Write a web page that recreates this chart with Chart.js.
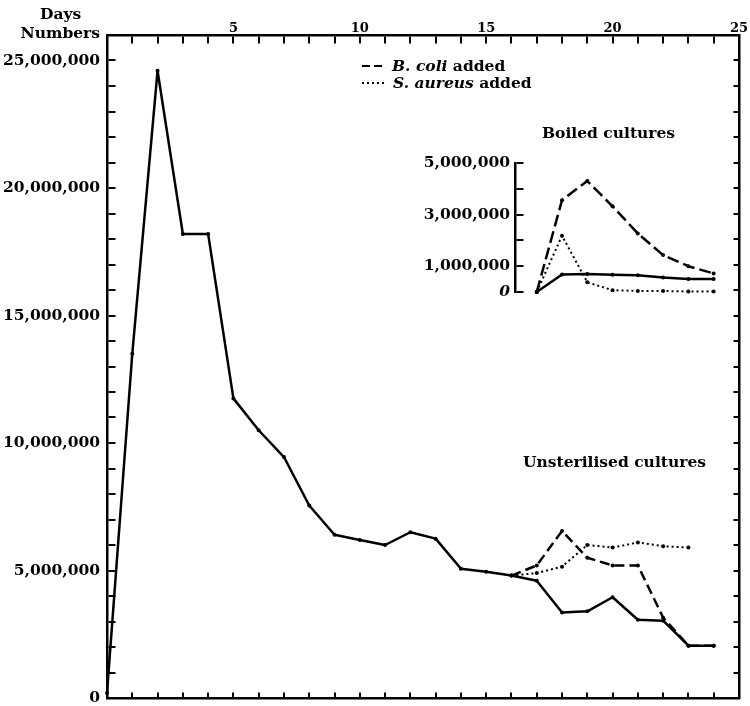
<!DOCTYPE html>
<html><head><meta charset="utf-8">
<script src="https://cdn.jsdelivr.net/npm/chart.js@4.4.1/dist/chart.umd.min.js"></script>
<style>
html,body{margin:0;padding:0;background:#fff;}
#wrap{position:relative;width:750px;height:706px;overflow:hidden;background:#fff;}
canvas{position:absolute;}
.t{position:absolute;font-family:'DejaVu Serif',serif;font-weight:bold;font-size:15.5px;color:#000;white-space:nowrap;line-height:18px;}
.t i{font-style:italic;}
.samp{display:inline-block;height:2.5px;vertical-align:middle;margin-right:8px;position:relative;top:-1px;}
</style></head><body>
<div id="wrap">
<canvas id="main" width="750" height="706" style="left:0;top:0"></canvas>
<canvas id="inset" width="310" height="150" style="left:420px;top:151px"></canvas>
<div class="t" style="left:40px;top:5px">Days</div>
<div class="t" style="right:650px;top:24px">Numbers</div>
<div class="t" style="left:362px;top:57px"><span class="samp" style="width:22px;background:repeating-linear-gradient(to right,#000 0 8px,transparent 8px 12px);"></span><i>B. coli</i> added</div>
<div class="t" style="left:362px;top:74px"><span class="samp" style="width:25px;margin-right:6px;background:repeating-linear-gradient(to right,#000 0 2.5px,transparent 2.5px 5px);"></span><i>S. aureus</i> added</div>
<div class="t" style="left:542px;top:124px">Boiled cultures</div>
<div class="t" style="left:523px;top:453px">Unsterilised cultures</div>
</div>
<script>
// ---- data ----
const days = [0,1,2,3,4,5,6,7,8,9,10,11,12,13,14,15,16,17,18,19,20,21,22,23,24];
const unsterilised = [200000,13500000,24600000,18200000,18200000,11750000,10500000,9450000,7550000,6400000,6200000,6000000,6500000,6250000,5070000,4950000,4800000,4600000,3350000,3400000,3950000,3070000,3030000,2050000,2050000];
const bColiDays = [16,17,18,19,20,21,22,23,24];
const bColiAdded = [4800000,5200000,6550000,5500000,5200000,5200000,3150000,2050000,2050000];
const sAureusDays = [16,17,18,19,20,21,22,23];
const sAureusAdded = [4800000,4900000,5150000,6000000,5900000,6100000,5950000,5900000];

const boiledDays = [17,18,19,20,21,22,23,24];
const boiledControl = [0,680000,700000,670000,650000,560000,500000,500000];
const boiledBColi = [0,3560000,4300000,3320000,2270000,1430000,1000000,720000];
const boiledSAureus = [0,2180000,380000,70000,40000,40000,20000,20000];

// ---- tick labels ----
const dayLabelValues = [5,10,15,20,25];
const dayLabelTexts = ['5','10','15','20','25'];
const mainYLabelValues = [0,5000000,10000000,15000000,20000000,25000000];
const mainYLabelTexts = ['0','5,000,000','10,000,000','15,000,000','20,000,000','25,000,000'];
const insetYLabelValues = [0,1000000,3000000,5000000];
const insetYLabelTexts = ['0','1,000,000','3,000,000','5,000,000'];

// ---- helpers ----
const FONT = {family:"'DejaVu Serif', serif", size:15.5, weight:'bold', lineHeight:1};
const DAYFONT = {family:"'DejaVu Serif', serif", size:13, weight:'bold', lineHeight:1};
function pts(xs, ys){ return xs.map((x,i)=>({x:x, y:ys[i]})); }
function lookup(vals, texts){ return (v)=>{ const i = vals.findIndex(a=>Math.abs(a-v)<1e-6*Math.max(1,Math.abs(a))); return i>=0 ? texts[i] : ''; }; }
function tickDash(len, horiz, both){
  return (ctx)=>{
    const a = ctx.chart.chartArea;
    if(!a) return [];
    const span = horiz ? (a.right-a.left) : (a.bottom-a.top);
    return both ? [len, Math.max(span-2*len,1), len, 5000] : [len, 5000];
  };
}
function zeroPad(s){ s.paddingTop=0; s.paddingBottom=0; s.paddingLeft=0; s.paddingRight=0; }
function ds(label, data, dash, width, yID, xID){
  return {label, data, borderColor:'#000', backgroundColor:'#000', borderWidth:width, borderDash:dash,
    borderJoinStyle:'round', borderCapStyle:'butt',
    pointRadius:2, pointHoverRadius:2, pointBackgroundColor:'#000', pointBorderWidth:0,
    tension:0, fill:false, clip:false, yAxisID:yID, xAxisID:xID};
}
Chart.defaults.font.family = "'DejaVu Serif', serif";
Chart.defaults.color = '#000';

new Chart(document.getElementById('main'), {
  type:'line',
  data:{datasets:[
    ds('S. aureus added', pts(sAureusDays, sAureusAdded), [2,3], 2, 'y', 'x'),
    ds('B. coli added', pts(bColiDays, bColiAdded), [10,5], 2.5, 'y', 'x'),
    ds('Unsterilised cultures', pts(days, unsterilised), [], 2.5, 'y', 'x')
  ]},
  options:{
    responsive:false, animation:false, devicePixelRatio:1,
    layout:{padding:{left:0,right:11,top:0,bottom:8}},
    plugins:{legend:{display:false}, tooltip:{enabled:false}, title:{display:false}},
    scales:{
      x:{type:'linear', position:'top', min:0, max:25,
        ticks:{stepSize:1, autoSkip:false, maxRotation:0, minRotation:0, padding:0, font:DAYFONT, color:'#000', includeBounds:false,
          callback: lookup(dayLabelValues, dayLabelTexts)},
        grid:{drawTicks:false, color:'#000', lineWidth:2},
        border:{display:true, color:'#000', width:2.5, dash: tickDash(7,false,true)},
        afterFit:(s)=>{ s.height = 35; zeroPad(s); }
      },
      xb:{type:'linear', position:'bottom', min:0, max:25,
        ticks:{display:false}, grid:{display:false, drawTicks:false},
        border:{display:true, color:'#000', width:2.5},
        afterFit:(s)=>{ s.height = 0; zeroPad(s); }
      },
      y:{type:'linear', position:'left', min:0, max:26000000,
        ticks:{stepSize:1000000, autoSkip:false, padding:7, font:FONT, color:'#000', includeBounds:false,
          callback: lookup(mainYLabelValues, mainYLabelTexts)},
        grid:{drawTicks:false, color:'#000', lineWidth:2},
        border:{display:true, color:'#000', width:2.5, dash: tickDash(7,true,true)},
        afterFit:(s)=>{ s.width = 107; zeroPad(s); }
      },
      yr:{type:'linear', position:'right', min:0, max:1,
        ticks:{display:false}, grid:{display:false, drawTicks:false},
        border:{display:true, color:'#000', width:2.5},
        afterFit:(s)=>{ s.width = 0; zeroPad(s); }
      }
    }
  }
});

new Chart(document.getElementById('inset'), {
  type:'line',
  data:{datasets:[
    ds('S. aureus added', pts(boiledDays, boiledSAureus), [2,3], 2, 'y', 'x'),
    ds('B. coli added', pts(boiledDays, boiledBColi), [12,5], 2.5, 'y', 'x'),
    ds('Boiled cultures', pts(boiledDays, boiledControl), [], 2.5, 'y', 'x')
  ]},
  options:{
    responsive:false, animation:false, devicePixelRatio:1,
    layout:{padding:{left:0,right:5,top:12,bottom:9}},
    plugins:{legend:{display:false}, tooltip:{enabled:false}},
    scales:{
      x:{type:'linear', display:false, min:16.14, max:24.45},
      y:{type:'linear', position:'left', min:0, max:5000000,
        ticks:{stepSize:1000000, autoSkip:false, padding:5, color:'#000',
          font:(c)=> (c.tick && c.tick.value===0) ? {family:"'DejaVu Serif', serif", size:15.5, weight:'bold', style:'italic', lineHeight:1} : FONT,
          callback: lookup(insetYLabelValues, insetYLabelTexts)},
        grid:{drawTicks:false, color:'#000', lineWidth:2},
        border:{display:true, color:'#000', width:2.5, dash: tickDash(7,true,false)},
        afterFit:(s)=>{ s.width = 95; zeroPad(s); }
      }
    }
  }
});
</script>
</body></html>
